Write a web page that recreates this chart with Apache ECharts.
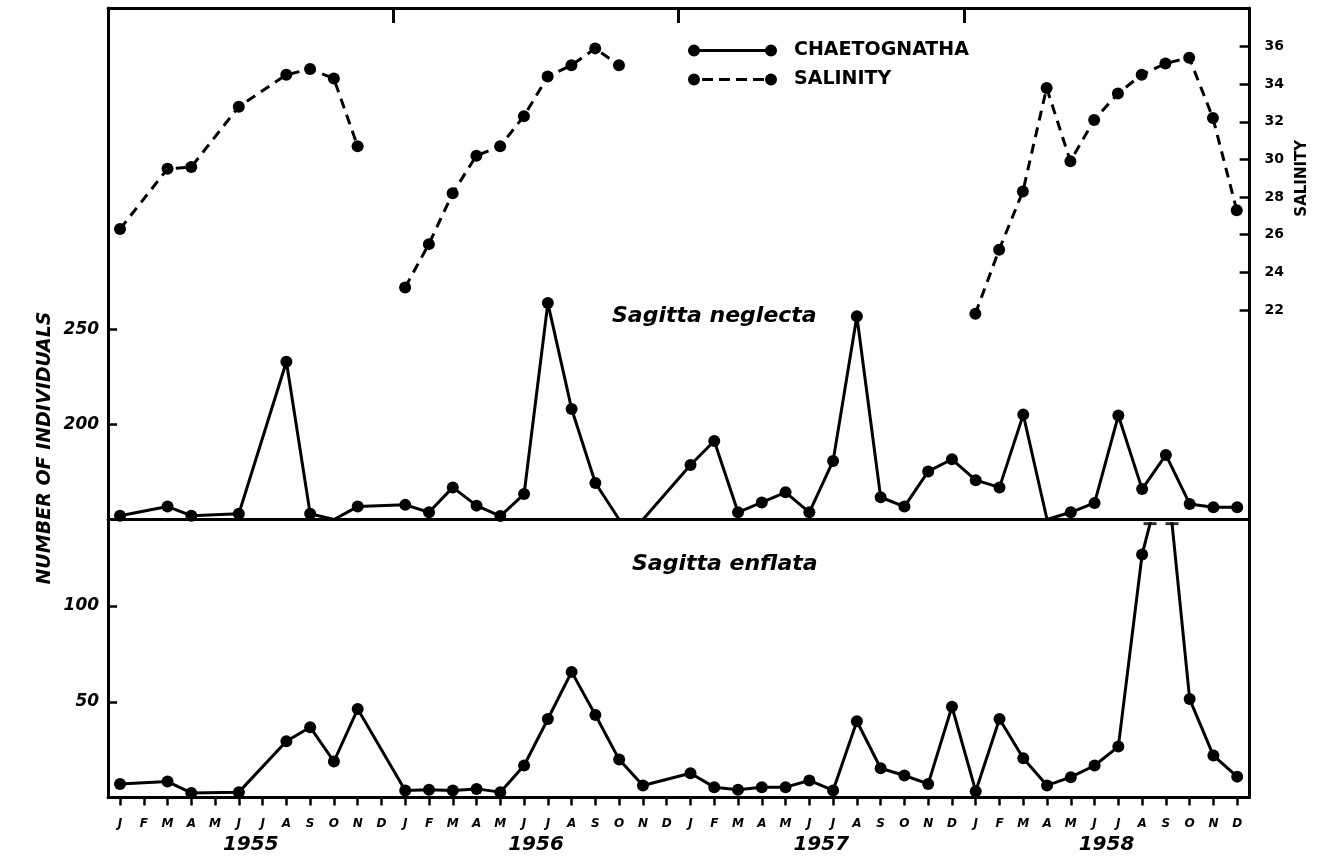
<!DOCTYPE html>
<html><head><meta charset="utf-8">
<script src="https://cdn.jsdelivr.net/npm/echarts@6/dist/echarts.min.js"></script>
<style>html,body{margin:0;padding:0;background:#fff}#c{width:1318px;height:864px}</style>
</head><body><div id="c"></div>
<script>
// ---- data (48 months, Jan 1955 .. Dec 1958; null = no sample) ----
const monthLabels = ['J','F','M','A','M','J','J','A','S','O','N','D'];
const years = ['1955','1956','1957','1958'];
const neglecta = [
  152, null, 156.8, 152, null, 153, null, 233, 153, 150, 156.8, null,
  157.7, 153.8, 166.9, 157.3, 151.8, 163.4, 263.9, 208.2, 169.2, 150, 150, null,
  178.7, 191.3, 153.8, 159, 164.3, 153.8, 180.8, 257, 161.7, 156.8, 175.3, 181.7,
  170.7, 166.9, 205.2, 150, 153.8, 158.7, 204.7, 166, 184, 158.2, 156.5, 156.5];
const enflata = [
  7.1, null, 8.3, 2.4, null, 2.8, null, 29.4, 36.7, 18.8, 46.2, null,
  3.7, 4, 3.7, 4.5, 2.8, 16.7, 41, 65.6, 43.1, 19.8, 6.3, null,
  12.7, 5.4, 4, 5.4, 5.4, 8.9, 3.7, 39.8, 15.3, 11.5, 7.1, 47.4,
  3.3, 41, 20.5, 6.3, 10.6, 16.7, 26.6, 126.9, 175, 51.4, 21.9, 10.9];
const salinity1955 = [26.3, null, 29.5, 29.6, null, 32.8, null, 34.5, 34.8, 34.3, 30.7, null];
const salinity1956 = [23.2, 25.5, 28.2, 30.2, 30.7, 32.3, 34.4, 35.0, 35.9, 35.0, null, null];
const salinity1958 = [21.8, 25.2, 28.3, 33.8, 29.9, 32.1, 33.5, 34.5, 35.1, 35.4, 32.2, 27.3];
const neglectaTicks = [200, 250];
const enflataTicks = [50, 100];

// ---- helpers ----
const pts = (arr, start) => arr.map((v, i) => [start + i, v]).filter(p => p[1] != null);
const EN_MAX = 143;     // top of the enflata panel (values above are off-scale)
const NEG_BASE = 150;   // base of the neglecta panel
const enPts = pts(enflata, 0);
const caps = [];
for (let k = 1; k < enPts.length; k++) {
  const [x0, y0] = enPts[k - 1], [x1, y1] = enPts[k];
  if ((y0 <= EN_MAX) !== (y1 <= EN_MAX)) {
    const t = (EN_MAX - y0) / (y1 - y0);
    caps.push([x0 + t * (x1 - x0), EN_MAX]);
  }
}
const negData = pts(neglecta, 0).map(p => p[1] <= NEG_BASE ? { value: p, symbolSize: 0 } : p);

// ---- layout ----
const W = 1318, H = 864;
const X0 = 120, XN = 1237.2;           // month 0 / month 47
const FL = 108.1, FR = 1249.1;         // frame
const TOP = 8, MID = 519.5, BOT = 797.5;
const FONT = '"DejaVu Sans"';
const BLACK = '#000';
const line3 = { show: true, onZero: false, lineStyle: { color: BLACK, width: 3 } };
const noLine = { show: false, onZero: false };
const off = { show: false };

const frameY = (grid, pos) => ({
  gridIndex: grid, type: 'value', position: pos, min: 0, max: 1,
  axisLine: line3, axisTick: off, axisLabel: off, splitLine: off
});

const solidIcon = 'path://M0,6A6,6,0,1,1,12,6A6,6,0,1,1,0,6ZM77,6A6,6,0,1,1,89,6A6,6,0,1,1,77,6ZM11,4.5L78,4.5L78,7.5L11,7.5Z';
const dashIcon = 'path://M0,6A6,6,0,1,1,12,6A6,6,0,1,1,0,6ZM77,6A6,6,0,1,1,89,6A6,6,0,1,1,77,6ZM14,4.5L25,4.5L25,7.5L14,7.5ZM31,4.5L42,4.5L42,7.5L31,7.5ZM48,4.5L59,4.5L59,7.5L48,7.5ZM65,4.5L76,4.5L76,7.5L65,7.5Z';

const lineSeries = (name, data, xi, yi, dashed, clip) => ({
  name, type: 'line', data, xAxisIndex: xi, yAxisIndex: yi,
  symbol: 'circle', symbolSize: 12, clip, connectNulls: true,
  itemStyle: { color: BLACK },
  lineStyle: { color: BLACK, width: 3, type: dashed ? [10, 7] : 'solid' },
  animation: false, silent: true
});

const option = {
  backgroundColor: '#fff',
  animation: false,
  grid: [
    { left: FL, right: W - FR, top: TOP, height: MID - TOP },                 // 0 upper frame
    { left: FL, right: W - FR, top: MID, height: BOT - MID },                 // 1 lower frame
    { left: X0, right: W - XN, top: 46.5, height: 263.5 },                    // 2 salinity (22..36)
    { left: X0, right: W - XN, top: 329.5, height: MID - 329.5 },             // 3 neglecta (150..250)
    { left: X0, right: W - XN, top: BOT - EN_MAX * 1.915, height: EN_MAX * 1.915 } // 4 enflata
  ],
  xAxis: [
    { gridIndex: 0, type: 'category', data: years, position: 'bottom', boundaryGap: true,
      axisLine: line3, axisTick: off, axisLabel: off },
    { gridIndex: 0, type: 'category', data: years, position: 'top', boundaryGap: true,
      axisLine: line3, axisTick: { show: true, inside: true, length: 15, lineStyle: { color: BLACK, width: 3 } },
      axisLabel: off },
    { gridIndex: 1, type: 'category', data: years, position: 'bottom', boundaryGap: true,
      axisLine: line3, axisTick: off,
      axisLabel: { show: true, margin: 37, color: BLACK, fontFamily: FONT, fontSize: 20,
        fontWeight: 'bold', fontStyle: 'italic' } },
    { gridIndex: 2, type: 'value', min: 0, max: 47, show: false, axisLine: noLine },
    { gridIndex: 3, type: 'value', min: 0, max: 47, show: false, axisLine: noLine },
    { gridIndex: 4, type: 'value', min: 0, max: 47, interval: 1, position: 'bottom',
      axisLine: noLine, splitLine: off,
      axisTick: { show: true, inside: false, length: 8, lineStyle: { color: BLACK, width: 2.5 } },
      axisLabel: { show: true, margin: 20, color: BLACK, fontFamily: FONT, fontSize: 12,
        fontWeight: 'bold', fontStyle: 'italic', formatter: v => monthLabels[v % 12] } }
  ],
  yAxis: [
    frameY(0, 'left'), frameY(0, 'right'), frameY(1, 'left'), frameY(1, 'right'),
    { gridIndex: 2, type: 'value', position: 'right', offset: FR - XN, min: 22, max: 36, interval: 2,
      axisLine: noLine, splitLine: off,
      axisTick: { show: true, inside: true, length: 9, lineStyle: { color: BLACK, width: 2.5 } },
      axisLabel: { show: true, margin: 16, color: BLACK, fontFamily: FONT, fontSize: 14, fontWeight: 'bold' },
      name: 'SALINITY', nameLocation: 'middle', nameRotate: 90, nameGap: 46,
      nameTextStyle: { color: BLACK, fontFamily: FONT, fontSize: 15, fontWeight: 'bold' } },
    { gridIndex: 3, type: 'value', position: 'left', offset: X0 - FL, min: NEG_BASE, max: 250, interval: 50,
      axisLine: noLine, splitLine: off,
      axisTick: { show: true, inside: true, length: 9, customValues: neglectaTicks, lineStyle: { color: BLACK, width: 2.5 } },
      axisLabel: { show: true, margin: 9, customValues: neglectaTicks, color: BLACK, fontFamily: FONT, fontSize: 17,
        fontWeight: 'bold', fontStyle: 'italic', formatter: v => neglectaTicks.includes(v) ? String(v) : '' } },
    { gridIndex: 4, type: 'value', position: 'left', offset: X0 - FL, min: 0, max: EN_MAX, interval: 50,
      axisLine: noLine, splitLine: off,
      axisTick: { show: true, inside: true, length: 9, customValues: enflataTicks, lineStyle: { color: BLACK, width: 2.5 } },
      axisLabel: { show: true, margin: 9, customValues: enflataTicks, color: BLACK, fontFamily: FONT, fontSize: 17,
        fontWeight: 'bold', fontStyle: 'italic', formatter: v => enflataTicks.includes(v) ? String(v) : '' } }
  ],
  legend: {
    orient: 'vertical', left: 683, top: 36, itemGap: 10, itemWidth: 89, itemHeight: 12,
    selectedMode: false,
    data: [{ name: 'CHAETOGNATHA', icon: solidIcon }, { name: 'SALINITY', icon: dashIcon }],
    itemStyle: { color: BLACK, borderWidth: 0 },
    textStyle: { color: BLACK, fontFamily: FONT, fontSize: 19, fontWeight: 'bold', padding: [0, 0, 0, 12] }
  },
  graphic: [
    { type: 'text', x: 45, y: 448, rotation: Math.PI / 2,
      style: { text: 'NUMBER OF INDIVIDUALS', fill: BLACK, font: 'italic bold 19px "DejaVu Sans"',
        textAlign: 'center', textVerticalAlign: 'middle', align: 'center', verticalAlign: 'middle' } },
    { type: 'text', x: 612, y: 316,
      style: { text: 'Sagitta neglecta', fill: BLACK, font: 'italic bold 22px "DejaVu Sans"',
        textVerticalAlign: 'middle', verticalAlign: 'middle' } },
    { type: 'text', x: 632, y: 564,
      style: { text: 'Sagitta enflata', fill: BLACK, font: 'italic bold 22px "DejaVu Sans"',
        textVerticalAlign: 'middle', verticalAlign: 'middle' } }
  ],
  series: [
    lineSeries('CHAETOGNATHA', negData, 4, 5, false, false),
    lineSeries('CHAETOGNATHA', enPts, 5, 6, false, true),
    lineSeries('SALINITY', pts(salinity1955, 0), 3, 4, true, false),
    lineSeries('SALINITY', pts(salinity1956, 12), 3, 4, true, false),
    lineSeries('SALINITY', pts(salinity1958, 36), 3, 4, true, false),
    { type: 'scatter', data: caps, xAxisIndex: 5, yAxisIndex: 6, symbol: 'rect', symbolSize: [13, 3],
      itemStyle: { color: BLACK }, clip: false, silent: true, animation: false }
  ]
};
const chart = echarts.init(document.getElementById('c'), null, { renderer: 'canvas' });
chart.setOption(option);
</script></body></html>
